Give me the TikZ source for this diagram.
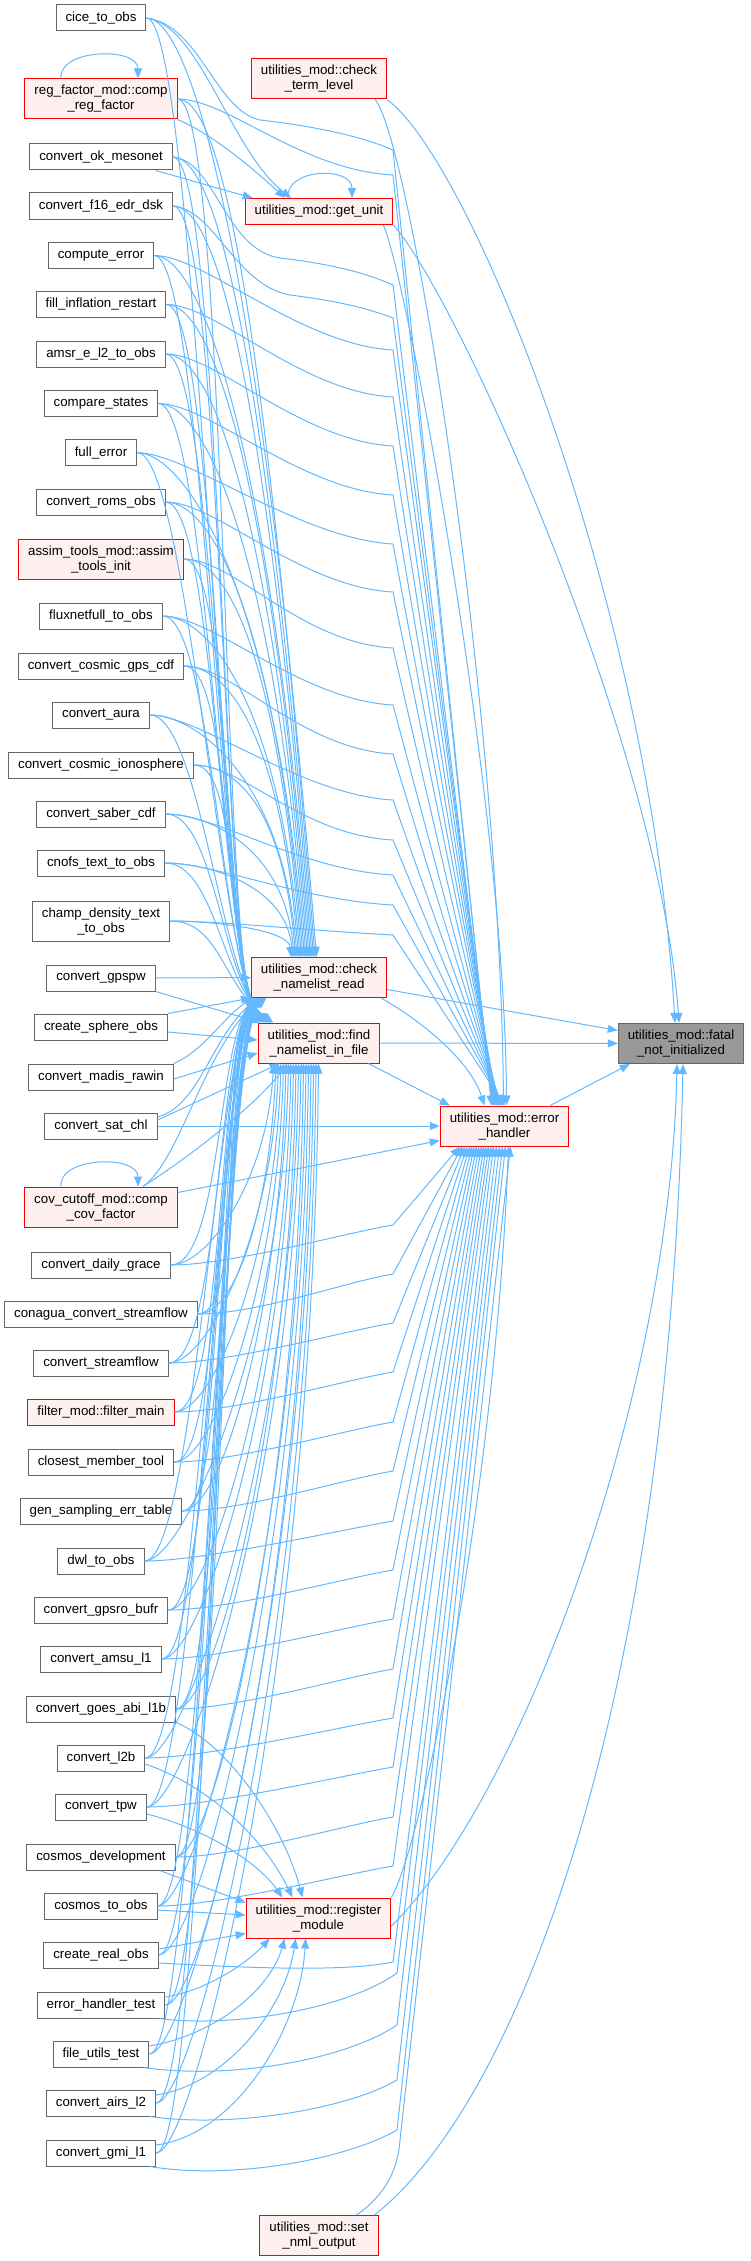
\documentclass[tikz,border=0pt]{standalone}
\usepackage{fontspec}
\setmainfont{Liberation Sans}
\usetikzlibrary{arrows.meta}
\definecolor{edgeblue}{RGB}{99,184,255}
\definecolor{boxgray}{RGB}{102,102,102}
\definecolor{morered}{RGB}{255,0,0}
\definecolor{morefill}{RGB}{255,240,240}
\definecolor{rootfill}{RGB}{153,153,153}

\begin{document}
\begin{tikzpicture}[
    x=1pt, y=-1pt,
    every node/.style={font=\fontsize{13.3}{15}\selectfont},
    fn/.style={rectangle, draw=boxgray, fill=white, line width=1pt, inner xsep=9.5pt, inner ysep=3pt, minimum height=26pt, align=center},
    fntwo/.style={fn, minimum height=40pt},
    fnred/.style={fn, draw=morered, fill=morefill},
    fnmore/.style={fnred, minimum height=40pt},
    fnroot/.style={fntwo, fill=rootfill},
    call/.style={draw=edgeblue, line width=1pt, -{Triangle[length=10pt, width=8pt]}},
]
\useasboundingbox (0,0) rectangle (750,2261);

% ── Callers (left column) ──
\node[fn] (cice) at (101,18) {cice\_to\_obs};
\node[fnmore] (regfac) at (101,99) {reg\_factor\_mod::comp\\\_reg\_factor};
\node[fn] (okmeso) at (101,157) {convert\_ok\_mesonet};
\node[fn] (f16) at (101,206) {convert\_f16\_edr\_dsk};
\node[fn] (comperr) at (101,255.5) {compute\_error};
\node[fn] (fillinf) at (101,304.5) {fill\_inflation\_restart};
\node[fn] (amsre) at (101,354) {amsr\_e\_l2\_to\_obs};
\node[fn] (compst) at (101,403.5) {compare\_states};
\node[fn] (fullerr) at (101,452.7) {full\_error};
\node[fn] (roms) at (101,502) {convert\_roms\_obs};
\node[fnmore] (assim) at (101,559) {assim\_tools\_mod::assim\\\_tools\_init};
\node[fn] (fluxnet) at (101,616) {fluxnetfull\_to\_obs};
\node[fn] (cosmicgps) at (101,666) {convert\_cosmic\_gps\_cdf};
\node[fn] (aura) at (101,715) {convert\_aura};
\node[fn] (cosmicion) at (101,765) {convert\_cosmic\_ionosphere};
\node[fn] (saber) at (101,814) {convert\_saber\_cdf};
\node[fn] (cnofs) at (101,863) {cnofs\_text\_to\_obs};
\node[fntwo] (champ) at (101,921) {champ\_density\_text\\\_to\_obs};
\node[fn] (gpspw) at (101,978) {convert\_gpspw};
\node[fn] (sphere) at (101,1027) {create\_sphere\_obs};
\node[fn] (madis) at (101,1077) {convert\_madis\_rawin};
\node[fn] (satchl) at (101,1126) {convert\_sat\_chl};
\node[fnmore] (covcut) at (101,1207) {cov\_cutoff\_mod::comp\\\_cov\_factor};
\node[fn] (dailygrace) at (101,1265) {convert\_daily\_grace};
\node[fn] (conagua) at (101,1314) {conagua\_convert\_streamflow};
\node[fn] (streamflow) at (101,1363) {convert\_streamflow};
\node[fnred] (filtermain) at (101,1412) {filter\_mod::filter\_main};
\node[fn] (closest) at (101,1462) {closest\_member\_tool};
\node[fn] (gensamp) at (101,1511) {gen\_sampling\_err\_table};
\node[fn] (dwl) at (101,1561) {dwl\_to\_obs};
\node[fn] (gpsro) at (101,1610) {convert\_gpsro\_bufr};
\node[fn] (amsu) at (101,1659) {convert\_amsu\_l1};
\node[fn] (goesabi) at (101,1709) {convert\_goes\_abi\_l1b};
\node[fn] (l2b) at (101,1758) {convert\_l2b};
\node[fn] (tpw) at (101,1807) {convert\_tpw};
\node[fn] (cosmosdev) at (101,1857) {cosmos\_development};
\node[fn] (cosmosobs) at (101,1906) {cosmos\_to\_obs};
\node[fn] (realobs) at (101,1955) {create\_real\_obs};
\node[fn] (ehtest) at (101,2005) {error\_handler\_test};
\node[fn] (futest) at (101,2054) {file\_utils\_test};
\node[fn] (airs) at (101,2103) {convert\_airs\_l2};
\node[fn] (gmi) at (101,2153) {convert\_gmi\_l1};

% ── utilities_mod routines ──
\node[fnmore] (ctl) at (319,79) {utilities\_mod::check\\\_term\_level};
\node[fnred] (gu) at (319,211.5) {utilities\_mod::get\_unit};
\node[fnmore] (cnr) at (319,977.5) {utilities\_mod::check\\\_namelist\_read};
\node[fnmore] (fnf) at (319,1043) {utilities\_mod::find\\\_namelist\_in\_file};
\node[fnmore] (rm) at (318.5,1918) {utilities\_mod::register\\\_module};
\node[fnmore] (setnml) at (319,2235.5) {utilities\_mod::set\\\_nml\_output};
\node[fnmore] (eh) at (504.5,1126) {utilities\_mod::error\\\_handler};
\node[fnroot] (fatal) at (681,1043.5) {utilities\_mod::fatal\\\_not\_initialized};

% ── Self calls ──
\draw[call] ([xshift=-40pt]regfac.north) .. controls +(-3,-30) and +(0,-32) .. ([xshift=37pt]regfac.north);
\draw[call] ([xshift=-31pt]gu.north) .. controls +(-3,-30) and +(0,-32) .. ([xshift=33pt]gu.north);
\draw[call] ([xshift=-40pt]covcut.north) .. controls +(-3,-30) and +(0,-32) .. ([xshift=37pt]covcut.north);

% ── Upper callers -> namelist routines ──
\foreach \nd/\y/\i in {cice/18/1, regfac/99/2, okmeso/157/3, f16/206/4, comperr/255.5/5, fillinf/304.5/6, amsre/354/7, compst/403.5/8, fullerr/452.7/9, roms/502/10, assim/559/11, fluxnet/616/12, cosmicgps/666/13, aura/715/14, cosmicion/765/15, saber/814/16, cnofs/863/17, champ/921/18} {
  \pgfmathsetmacro\tx{-1-1.5*\i}
  \pgfmathsetmacro\fx{3+0.7*\i}
  \draw[call] (\nd.east) .. controls +(45,0) and ({318-1.5*\i-0.06*(957-\y)},{957-0.75*(957-\y)}) .. ([xshift=\tx pt]cnr.north);
  \draw[call] (\nd.east) .. controls +(50,0) and (222,985) .. ([xshift=\fx pt]fnf.north west);
}

% ── Upper callers -> error handler ──
\foreach \nd/\k/\i in {regfac/175/2, comperr/350/5, fillinf/397/6, amsre/446/7, compst/495/8, fullerr/544/9, roms/592/10, assim/648/11, fluxnet/705/12, cosmicgps/754/13, aura/800/14, cosmicion/840/15, saber/875/16, cnofs/905/17, champ/935/18} {
  \pgfmathsetmacro\ex{-14+0.8*\i}
  \draw[call] (\nd.east) .. controls +(50,0) and (300,{\k-5}) .. (393,\k) -- ([xshift=\ex pt]eh.north);
}
\draw[call] (cice.east) .. controls (200,25) and (215,110) .. (260,120) .. controls (330,128) and (370,140) .. (393,150) -- ([xshift=-13pt]eh.north);
\draw[call] (okmeso.east) .. controls (215,160) and (225,250) .. (280,258) .. controls (340,265) and (370,275) .. (393,285) -- ([xshift=-11.6pt]eh.north);
\draw[call] (f16.east) .. controls (215,210) and (235,285) .. (290,295) .. controls (345,302) and (372,310) .. (393,318) -- ([xshift=-10.8pt]eh.north);

% ── get_unit callers ──
\draw[call] ([xshift=-17pt]okmeso.south east) -- ([xshift=8pt]gu.north west);
\draw[call] (regfac.south east) .. controls (215,135) and (260,175) .. ([xshift=-34pt]gu.north);
\draw[call] (cice.east) .. controls (200,25) and (230,150) .. ([xshift=-28pt]gu.north);

% ── Middle callers ──
\draw[call] (gpspw) -- (cnr);
\draw[call] (gpspw.south east) -- ([xshift=2pt]fnf.north west);
\draw[call] (sphere.north east) -- (cnr.south west);
\draw[call] ([yshift=-5pt]sphere.east) -- ([yshift=3pt]fnf.west);
\draw[call] (madis.north east) .. controls (205,1050) and (225,1015) .. ([xshift=3pt]cnr.south west);
\draw[call] ([yshift=-2pt]madis.east) -- ([yshift=-10pt]fnf.west);
\draw[call] ([yshift=9pt]satchl.east) .. controls (200,1105) and (210,1040) .. ([xshift=6pt]cnr.south west);
\draw[call] ([yshift=6pt]satchl.east) -- ([xshift=22pt]fnf.south west);
\draw[call] (satchl) -- (eh);
\draw[call] ([xshift=42pt]covcut.north) .. controls (180,1160) and (200,1060) .. ([xshift=8pt]cnr.south west);
\draw[call] ([xshift=42pt]covcut.north) .. controls (200,1150) and (260,1100) .. ([xshift=30pt]fnf.south west);
\draw[call] ([yshift=-6pt]covcut.north east) -- ([yshift=6pt]eh.south west);

% ── Lower callers -> namelist routines ──
\foreach \nd/\y/\i in {dailygrace/1265/1, conagua/1314/2, streamflow/1363/3, filtermain/1412/4, closest/1462/5, gensamp/1511/6, dwl/1561/7, gpsro/1610/8, amsu/1659/9, goesabi/1709/10, l2b/1758/11, tpw/1807/12, cosmosdev/1857/13, cosmosobs/1906/14, realobs/1955/15, ehtest/2005/16, futest/2054/17, airs/2103/18, gmi/2153/19} {
  \pgfmathsetmacro\cx{4+0.6*\i}
  \pgfmathsetmacro\fx{-48+2.5*\i}
  \draw[call] (\nd.east) .. controls +(50,0) and (218,1040) .. ([xshift=\cx pt]cnr.south west);
  \draw[call] (\nd.east) .. controls +(40,0) and ({265.5+2.5*\i},{1063+0.55*(\y-1063)}) .. ([xshift=\fx pt]fnf.south);
}

% ── Lower callers -> error handler ──
\foreach \nd/\y/\i in {dailygrace/1265/1, conagua/1314/2, streamflow/1363/3, filtermain/1412/4, closest/1462/5, gensamp/1511/6, dwl/1561/7, gpsro/1610/8, amsu/1659/9, goesabi/1709/10, l2b/1758/11, tpw/1807/12, cosmosdev/1857/13, cosmosobs/1906/14} {
  \pgfmathsetmacro\ex{-47+2.4*\i}
  \draw[call] (\nd.east) .. controls +(60,0) and (345,{\y-32}) .. (393,{\y-40}) -- ([xshift=\ex pt]eh.south);
}
\draw[call] ([yshift=-8pt]realobs.east) .. controls (250,1968) and (345,1972) .. (393,1962) -- ([xshift=-11pt]eh.south);
\draw[call] ([xshift=-6pt]ehtest.south east) .. controls (230,2028) and (345,2010) .. (397,1973) -- ([xshift=-8pt]eh.south);
\draw[call] ([xshift=-6pt]futest.south east) .. controls (230,2080) and (345,2060) .. (397,2025) -- ([xshift=-5pt]eh.south);
\draw[call] ([xshift=-6pt]airs.south east) .. controls (230,2128) and (345,2110) .. (397,2080) -- ([xshift=-2pt]eh.south);
\draw[call] ([xshift=-6pt]gmi.south east) .. controls (230,2180) and (345,2160) .. (397,2130) -- ([xshift=1pt]eh.south);

% ── register_module callers ──
\draw[call] (goesabi.south east) .. controls (230,1745) and (285,1830) .. ([xshift=-16pt]rm.north);
\draw[call] ([yshift=-6pt]l2b.east) .. controls (220,1790) and (270,1850) .. ([xshift=-26pt]rm.north);
\draw[call] ([yshift=-7pt]tpw.east) .. controls (210,1830) and (260,1865) .. ([xshift=-36pt]rm.north);
\draw[call] ([xshift=-16pt]cosmosdev.south east) -- ([yshift=-5pt]rm.north west);
\draw[call] ([yshift=-4pt]cosmosobs.east) -- ([yshift=3pt]rm.west);
\draw[call] ([yshift=6pt]realobs.east) -- ([yshift=5pt]rm.south west);
\draw[call] ([yshift=8pt]ehtest.east) .. controls (210,1990) and (250,1960) .. ([xshift=24pt]rm.south west);
\draw[call] ([yshift=8pt]futest.east) .. controls (215,2035) and (270,1990) .. ([xshift=39pt]rm.south west);
\draw[call] ([yshift=8pt]airs.east) .. controls (225,2085) and (285,2010) .. ([xshift=50pt]rm.south west);
\draw[call] ([yshift=8pt]gmi.east) .. controls (235,2135) and (300,2030) .. ([xshift=60pt]rm.south west);

% ── utilities_mod -> error handler / fatal ──
\draw[call] (ctl.south east) .. controls (470,160) and (650,600) .. ([xshift=-6pt]fatal.north);
\draw[call] ([xshift=-12pt]ctl.south east) .. controls (410,140) and (500,700) .. ([xshift=-1pt]eh.north);
\draw[call] (gu.south east) .. controls (460,300) and (660,750) .. ([xshift=-2pt]fatal.north);
\draw[call] ([xshift=-10pt]gu.south east) .. controls (405,270) and (505,800) .. ([xshift=2pt]eh.north);
\draw[call] ([yshift=-12pt]cnr.east) -- ([yshift=13pt]fatal.west);
\draw[call] (fnf) -- (fatal);
\draw[call] ([xshift=-6pt]cnr.south east) .. controls (420,1020) and (470,1060) .. ([xshift=-20pt]eh.north);
\draw[call] ([xshift=-12pt]fnf.south east) -- ([xshift=10pt]eh.north west);
\draw[call] ([xshift=-19pt]eh.north east) -- ([xshift=12pt]fatal.south west);
\draw[call] (rm.north east) .. controls (420,1850) and (495,1500) .. ([xshift=4pt]eh.south);
\draw[call] ([yshift=-8pt]rm.east) .. controls (520,1800) and (670,1400) .. ([xshift=-4pt]fatal.south);
\draw[call] ([xshift=-22pt]setnml.north east) .. controls (385,2195) and (398,2170) .. (400,2140) -- ([xshift=6pt]eh.south);
\draw[call] ([xshift=-4pt]setnml.north east) .. controls (520,2100) and (670,1700) .. ([xshift=2pt]fatal.south);

\end{tikzpicture}
\end{document}
